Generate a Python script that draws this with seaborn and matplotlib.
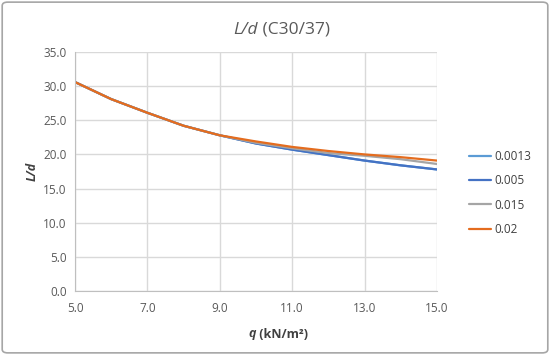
import numpy as np
import pandas as pd
import matplotlib
matplotlib.use("Agg")
import matplotlib.pyplot as plt
import seaborn as sns
from matplotlib.patches import FancyBboxPatch

# --- data ---
q = [5, 6, 7, 8, 9, 10, 11, 12, 13, 14, 15]
ld_0013 = [30.6, 28.1, 26.1, 24.2, 22.8, 21.6, 20.7, 19.9, 19.1, 18.4, 17.8]
ld_005 = [30.6, 28.1, 26.1, 24.2, 22.8, 21.6, 20.7, 19.9, 19.1, 18.4, 17.8]
ld_015 = [30.6, 28.1, 26.1, 24.2, 22.8, 21.7, 20.9, 20.2, 19.8, 19.3, 18.6]
ld_02 = [30.6, 28.1, 26.1, 24.2, 22.8, 21.9, 21.1, 20.5, 20.0, 19.6, 19.1]
series_names = ["0.0013", "0.005", "0.015", "0.02"]
colors = ["#5B9BD5", "#4472C4", "#A5A5A5", "#E46C1E"]

df = pd.DataFrame({"q": q * 4,
                   "Ld": ld_0013 + ld_005 + ld_015 + ld_02,
                   "series": sum([[s] * len(q) for s in series_names], [])})

sns.set_style("white")
plt.rcParams["font.family"] = ["Open Sans", "DejaVu Sans"]

fig = plt.figure(figsize=(5.5, 3.55), dpi=100)
ax = fig.add_axes([75 / 550, 1 - 291 / 355, (437 - 75) / 550, (291 - 52) / 355])

sns.lineplot(data=df, x="q", y="Ld", hue="series", palette=colors,
             linewidth=1.6, ax=ax, legend=False)

ax.set_xlim(5, 15)
ax.set_ylim(0, 35)
ax.set_xticks(np.arange(5, 15.1, 2))
ax.set_yticks(np.arange(0, 35.1, 5))
ax.set_xticklabels([f"{v:.1f}" for v in np.arange(5, 15.1, 2)])
ax.set_yticklabels([f"{v:.1f}" for v in np.arange(0, 35.1, 5)])
ax.grid(True, color="#D9D9D9", linewidth=1)
ax.tick_params(axis="both", colors="#595959", labelsize=8.5, length=0)
ax.tick_params(axis="x", pad=8)
ax.tick_params(axis="y", pad=6)
for side in ["top", "right"]:
    ax.spines[side].set_visible(False)
for side in ["left", "bottom"]:
    ax.spines[side].set_color("#BFBFBF")

# x axis title: italic q + upright units
ax.set_xlabel("")
fig.text((75 + 437) / 2 / 550, 1 - 334 / 355, "q", style="italic", fontweight="bold",
         fontsize=9, color="#404040", ha="right", va="center")
fig.text((75 + 437) / 2 / 550, 1 - 334 / 355, " (kN/m²)", fontweight="bold",
         fontsize=9, color="#404040", ha="left", va="center")
ax.set_ylabel("L/d", style="italic", fontweight="bold", fontsize=9,
              color="#404040", labelpad=3)

fig.text(258 / 550, 1 - 30 / 355, "L/d", style="italic", fontsize=12.5,
         color="#595959", ha="right", va="center")
fig.text(258 / 550, 1 - 30 / 355, " (C30/37)", fontsize=12.5,
         color="#595959", ha="left", va="center")

# legend on the right
handles = [plt.Line2D([], [], color=c, linewidth=1.6) for c in colors]
fig.legend(handles, series_names, loc="center left",
           bbox_to_anchor=(458 / 550, 1 - 193 / 355), frameon=False,
           fontsize=8.5, handlelength=1.9, handletextpad=0.3,
           labelspacing=0.95, labelcolor="#404040")

# chart border
fig.patches.append(FancyBboxPatch((0.004, 0.006), 0.992, 0.988,
                                  boxstyle="round,pad=0,rounding_size=0.01",
                                  transform=fig.transFigure, fill=False,
                                  edgecolor="#A6A6A6", linewidth=1.2))

fig.savefig("out.png", dpi=100)
